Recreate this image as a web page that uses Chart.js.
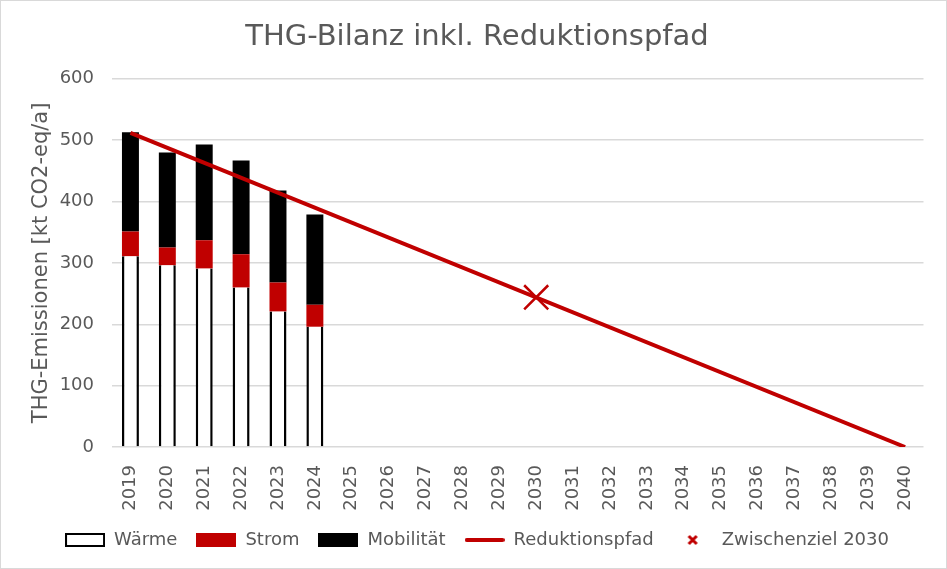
<!DOCTYPE html>
<html>
<head>
<meta charset="utf-8">
<script src="https://cdn.jsdelivr.net/npm/chart.js@4"></script>
<style>
  html, body { margin: 0; padding: 0; background: #fff; }
  #wrap { width: 947px; height: 569px; }
</style>
</head>
<body>
<div id="wrap"><canvas id="thgChart" width="947" height="569"></canvas></div>
<script>
const years = ["2019", "2020", "2021", "2022", "2023", "2024", "2025", "2026", "2027", "2028", "2029",
  "2030", "2031", "2032", "2033", "2034", "2035", "2036", "2037", "2038", "2039", "2040"];
const waerme = [311, 296, 291, 260, 221, 196];
const strom = [40, 29, 46, 54, 47, 36];
const mobilitaet = [162, 155, 156, 153, 150, 147];
const pfad = [512, null, null, null, null, null, null, null, null, null, null,
  null, null, null, null, null, null, null, null, null, null, 0];
const zwischenziel = [null, null, null, null, null, null, null, null, null, null, null,
  244, null, null, null, null, null, null, null, null, null, null];

const RED = "#C00000";
const GREY = "#595959";
const FONT = "'DejaVu Sans', Verdana, sans-serif";

function legendIcon(draw) {
  const c = document.createElement("canvas");
  c.width = 40;
  c.height = 14;
  draw(c.getContext("2d"));
  return c;
}

const icons = [
  legendIcon(g => { g.fillStyle = "#fff"; g.fillRect(1, 1, 38, 12); g.strokeStyle = "#000"; g.lineWidth = 2; g.strokeRect(1, 1, 38, 12); }),
  legendIcon(g => { g.fillStyle = RED; g.fillRect(0, 0, 40, 14); }),
  legendIcon(g => { g.fillStyle = "#000"; g.fillRect(0, 0, 40, 14); }),
  legendIcon(g => { g.strokeStyle = RED; g.lineWidth = 4; g.lineCap = "round"; g.beginPath(); g.moveTo(2, 7); g.lineTo(38, 7); g.stroke(); }),
  legendIcon(g => { g.strokeStyle = RED; g.lineWidth = 3; g.beginPath(); g.moveTo(16, 3); g.lineTo(24, 11); g.moveTo(24, 3); g.lineTo(16, 11); g.stroke(); })
];
const legendNames = ["Wärme", "Strom", "Mobilität", "Reduktionspfad", "Zwischenziel 2030"];

const frame = {
  id: "frame",
  beforeDraw(chart) {
    const ctx = chart.ctx;
    ctx.save();
    ctx.fillStyle = "#fff";
    ctx.fillRect(0, 0, chart.width, chart.height);
    ctx.strokeStyle = "#d9d9d9";
    ctx.lineWidth = 1;
    ctx.strokeRect(0.5, 0.5, chart.width - 1, chart.height - 1);
    ctx.restore();
  }
};

new Chart(document.getElementById("thgChart").getContext("2d"), {
  data: {
    labels: years,
    datasets: [
      {
        type: "bar", label: "Wärme", data: waerme, order: 3,
        backgroundColor: "#fff", borderColor: "#000",
        borderWidth: { left: 2.5, right: 2.5, top: 0, bottom: 0 },
        barPercentage: 0.46, categoryPercentage: 1
      },
      {
        type: "bar", label: "Strom", data: strom, order: 3,
        backgroundColor: RED, borderWidth: 0,
        barPercentage: 0.46, categoryPercentage: 1
      },
      {
        type: "bar", label: "Mobilität", data: mobilitaet, order: 3,
        backgroundColor: "#000", borderWidth: 0,
        barPercentage: 0.46, categoryPercentage: 1
      },
      {
        type: "line", label: "Reduktionspfad", data: pfad, order: 1,
        borderColor: RED, borderWidth: 4, pointRadius: 0, spanGaps: true, stack: "pfad"
      },
      {
        type: "line", label: "Zwischenziel 2030", data: zwischenziel, order: 0,
        showLine: false, pointStyle: "crossRot", pointRadius: 17,
        borderColor: RED, pointBorderWidth: 2.5, stack: "ziel"
      }
    ]
  },
  options: {
    responsive: false,
    animation: false,
    layout: { padding: { left: 15, right: 8, top: 0, bottom: 10 } },
    scales: {
      x: {
        stacked: true,
        grid: { display: false },
        border: { display: false },
        ticks: { color: GREY, font: { family: FONT, size: 18 }, minRotation: 90, maxRotation: 90, padding: 10, autoSkip: false },
        afterFit(scale) { scale.height = 65; }
      },
      y: {
        stacked: true,
        min: 0, max: 600,
        ticks: { stepSize: 100, color: GREY, font: { family: FONT, size: 18 }, padding: 18 },
        grid: { color: "#d9d9d9", lineWidth: 1.5, drawTicks: false },
        border: { display: false },
        title: { display: true, text: "THG-Emissionen [kt CO2-eq/a]", color: GREY, font: { family: FONT, size: 21 }, padding: { top: 14, bottom: 0 } },
        afterFit(scale) { scale.width = 97; }
      },
      yRight: {
        position: "right",
        display: true,
        grid: { display: false },
        border: { display: false },
        ticks: { display: false },
        afterFit(scale) { scale.width = 15.5; }
      }
    },
    plugins: {
      title: {
        display: true, text: "THG-Bilanz inkl. Reduktionspfad", color: GREY,
        font: { family: FONT, size: 29, weight: "normal" },
        padding: { top: 20, bottom: 24 }
      },
      legend: {
        position: "bottom",
        labels: {
          color: GREY,
          font: { family: FONT, size: 18 },
          usePointStyle: true,
          pointStyleWidth: 40,
          padding: 19,
          generateLabels() {
            return legendNames.map((name, i) => ({
              text: name, pointStyle: icons[i], fillStyle: "#fff", strokeStyle: "#fff",
              lineWidth: 0, hidden: false, datasetIndex: i, fontColor: GREY
            }));
          }
        }
      },
      tooltip: { enabled: false }
    }
  },
  plugins: [frame]
});
</script>
</body>
</html>
